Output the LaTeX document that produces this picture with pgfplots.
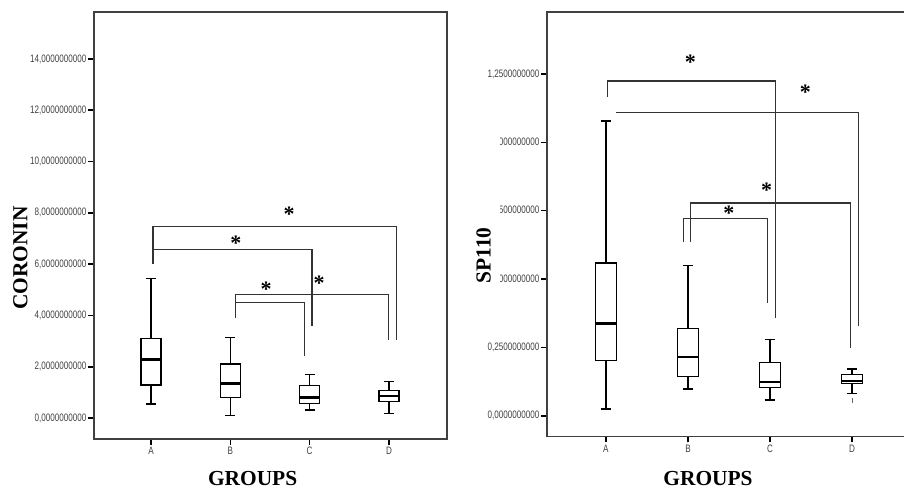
\documentclass[border=0pt]{standalone}
\usepackage{fontspec}
\setmainfont{Liberation Serif}
\newfontfamily\tickfont[FakeStretch=0.75]{Liberation Sans}
\usepackage{pgfplots}
\pgfplotsset{compat=1.18}
\usepgfplotslibrary{statistics}

\pgfplotsset{
  panel/.style={scale only axis, axis line style={black!75,line width=0.6pt},
    tick pos=left, tick align=outside, major tick length=2.8pt,
    every tick/.style={black, line width=0.8pt},
    xtick={1,2,3,4}, xticklabels={A,B,C,D},
    ticklabel style={font=\tickfont\fontsize{5.4}{6}\selectfont, text=black!75},
    yticklabel style={inner sep=0.8pt}, xticklabel style={inner sep=1.2pt},
    clip=false},
  bx/.style={black, line width=0.65pt, solid,
    boxplot prepared={draw direction=y, box extend=0.25, whisker extend=0.13,
      every median/.style={line width=1.4pt}, #1}},
  br/.style={black!80, line width=0.6pt},
}
\tikzset{
  sig/.style={font=\fontsize{11}{11}\selectfont\bfseries, anchor=base, yshift=-5pt, inner sep=0pt},
  lab/.style={font=\fontsize{10.7}{12}\selectfont\bfseries, inner sep=0pt},
}

\begin{document}
\begin{tikzpicture}
\useasboundingbox (0,0) rectangle (452pt,244.5pt);
\begin{scope}
\clip (0,0) rectangle (452pt,244.5pt);
% ---------- left panel: CORONIN ----------
\begin{axis}[panel, at={(47pt,25pt)}, anchor=south west,
  width=176.5pt, height=213.5pt,
  xmin=0.2815, xmax=4.731, ymin=-0.819, ymax=15.83,
  ytick={0,2,4,6,8,10,12,14},
  yticklabels={{0,0000000000},{2,0000000000},{4,0000000000},{6,0000000000},{8,0000000000},{10,0000000000},{12,0000000000},{14,0000000000}}]
\addplot[bx={draw position=1, lower whisker=0.55, lower quartile=1.29, median=2.27, upper quartile=3.09, upper whisker=5.43}] coordinates {};
\addplot[bx={draw position=2, lower whisker=0.09, lower quartile=0.79, median=1.34, upper quartile=2.11, upper whisker=3.15}] coordinates {};
\addplot[bx={draw position=3, lower whisker=0.31, lower quartile=0.56, median=0.79, upper quartile=1.26, upper whisker=1.69}] coordinates {};
\addplot[bx={draw position=4, lower whisker=0.18, lower quartile=0.64, median=0.86, upper quartile=1.07, upper whisker=1.41}] coordinates {};
% significance brackets
\addplot[br] coordinates {(1.025,6.0) (1.025,7.46) (4.09,7.46) (4.09,3.05)};
\addplot[br] coordinates {(1.025,6.56) (3.03,6.56) (3.03,3.6)};
\addplot[br] coordinates {(2.07,3.9) (2.07,4.8) (3.99,4.8) (3.99,3.05)};
\addplot[br] coordinates {(2.07,4.49) (2.93,4.49) (2.93,2.43)};
\node[sig] at (axis cs:2.74,8.07) {*};
\node[sig] at (axis cs:2.07,6.91) {*};
\node[sig] at (axis cs:3.12,5.38) {*};
\node[sig] at (axis cs:2.45,5.12) {*};
\end{axis}
% ---------- right panel: SP110 ----------
\begin{axis}[panel, at={(273.5pt,26.15pt)}, anchor=south west,
  width=182.5pt, height=212.35pt,
  xmin=0.2825, xmax=4.73, ymin=-0.0768, ymax=1.4766,
  ytick={0,0.25,0.5,0.75,1,1.25},
  yticklabels={{0,0000000000},{0,2500000000},{0,5000000000},{0,7500000000},{1,0000000000},{1,2500000000}}]
\addplot[bx={draw position=1, lower whisker=0.0245, lower quartile=0.201, median=0.337, upper quartile=0.558, upper whisker=1.078}] coordinates {};
\addplot[bx={draw position=2, lower whisker=0.098, lower quartile=0.143, median=0.215, upper quartile=0.320, upper whisker=0.550}] coordinates {};
\addplot[bx={draw position=3, lower whisker=0.057, lower quartile=0.102, median=0.123, upper quartile=0.194, upper whisker=0.278}] coordinates {};
\addplot[bx={draw position=4, lower whisker=0.082, lower quartile=0.117, median=0.127, upper quartile=0.151, upper whisker=0.171}, mark=|, mark size=1.2pt, mark options={black!60, line width=0.5pt}] table[row sep=\\, y index=0] {data\\0.055\\};
% significance brackets
\addplot[br] coordinates {(1.024,1.167) (1.024,1.224) (3.07,1.224) (3.07,0.356)};
\addplot[br] coordinates {(1.12,1.108) (4.08,1.108) (4.08,0.329)};
\addplot[br] coordinates {(2.03,0.637) (2.03,0.778) (3.98,0.778) (3.98,0.247)};
\addplot[br] coordinates {(1.95,0.637) (1.95,0.721) (2.97,0.721) (2.97,0.411)};
\node[sig] at (axis cs:2.03,1.304) {*};
\node[sig] at (axis cs:3.43,1.194) {*};
\node[sig] at (axis cs:2.96,0.834) {*};
\node[sig] at (axis cs:2.50,0.75) {*};
\end{axis}
% axis titles
\fill[white] (235pt,94.5pt) rectangle (250pt,178.5pt);
\node[lab, rotate=90] at (241.75pt,116.75pt) {SP110};
\node[lab, rotate=90] at (10.2pt,115.5pt) {CORONIN};
\node[lab] at (126.3pt,5.3pt) {GROUPS};
\node[lab] at (354pt,5.4pt) {GROUPS};
\end{scope}
\end{tikzpicture}
\end{document}
